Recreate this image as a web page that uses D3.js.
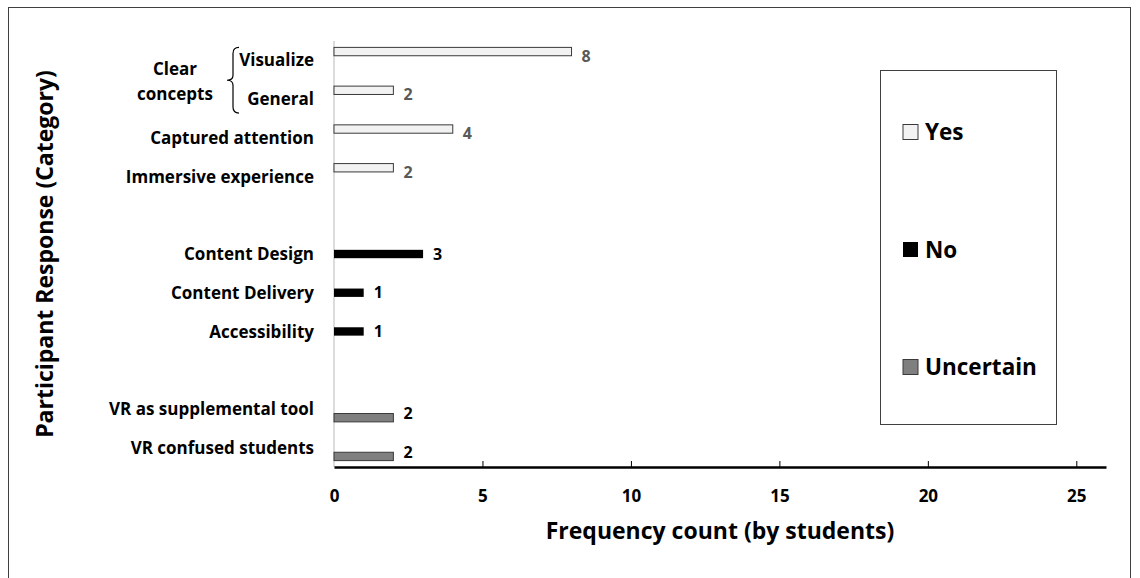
<!DOCTYPE html>
<html>
<head>
<meta charset="utf-8">
<script src="https://cdn.jsdelivr.net/npm/d3@7"></script>
<style>
  body { margin: 0; background: #fff; }
  svg { display: block; font-family: "Open Sans", Lato, sans-serif; font-weight: 700; }
</style>
</head>
<body>
<svg id="chart" width="1140" height="578"></svg>
<script>
// categories top to bottom, "gap" rows are the empty rows between groups
const categories = ["Visualize", "General", "Captured attention", "Immersive experience", "gap1",
  "Content Design", "Content Delivery", "Accessibility", "gap2",
  "VR as supplemental tool", "VR confused students"]
const seriesNames = ["Yes", "No", "Uncertain"]
const yesValues = [8, 2, 4, 2, null, null, null, null, null, null, null]
const noValues = [null, null, null, null, null, 3, 1, 1, null, null, null]
const uncertainValues = [null, null, null, null, null, null, null, null, null, 2, 2]
const xTicks = [0, 5, 10, 15, 20, 25]

const colors = { Yes: "#f2f2f2", No: "#000000", Uncertain: "#7f7f7f" }
const labelColors = { Yes: "#595959", No: "#000000", Uncertain: "#000000" }

const data = []
const seriesValues = { Yes: yesValues, No: noValues, Uncertain: uncertainValues }
seriesNames.forEach(s => {
  seriesValues[s].forEach((v, i) => {
    if (v != null) data.push({ cat: categories[i], series: s, value: v })
  })
})

const svg = d3.select("#chart")
const margin = { top: 41, right: 34, bottom: 111, left: 334 }
const width = 1140, height = 578

// outer frame
svg.append("rect")
  .attr("x", 8.5).attr("y", 7.5)
  .attr("width", 1122).attr("height", 600)
  .attr("fill", "none").attr("stroke", "#404040").attr("stroke-width", 1)

const x = d3.scaleLinear()
  .domain([0, 26])
  .range([margin.left, width - margin.right])

const y = d3.scaleBand()
  .domain(categories)
  .range([margin.top, height - margin.bottom])
  .paddingInner(0.33)
  .paddingOuter(0.165)

const ySub = d3.scaleBand()
  .domain(seriesNames)
  .range([0, y.bandwidth()])
  .paddingInner(0.05)

const barMid = d => y(d.cat) + ySub(d.series) + ySub.bandwidth() / 2
const catMid = c => y(c) + y.bandwidth() / 2

// y axis line (gray)
svg.append("line")
  .attr("x1", x(0)).attr("x2", x(0))
  .attr("y1", margin.top).attr("y2", height - margin.bottom)
  .attr("stroke", "#d0d0d0").attr("stroke-width", 1.5)

// bars
svg.append("g")
  .selectAll("rect")
  .data(data)
  .join("rect")
  .attr("x", x(0))
  .attr("y", d => y(d.cat) + ySub(d.series))
  .attr("width", d => x(d.value) - x(0))
  .attr("height", ySub.bandwidth())
  .attr("fill", d => colors[d.series])
  .attr("stroke", d => d.series === "No" ? "none" : "#3a3a3a")
  .attr("stroke-width", 1)

// value labels
svg.append("g")
  .selectAll("text")
  .data(data)
  .join("text")
  .attr("x", d => x(d.value) + 10)
  .attr("y", d => (barMid(d) + catMid(d.cat)) / 2)
  .attr("dy", "0.36em")
  .attr("font-size", 16)
  .attr("fill", d => labelColors[d.series])
  .text(d => d.value)

// category labels
svg.append("g")
  .selectAll("text")
  .data(categories.filter(c => !c.startsWith("gap")))
  .join("text")
  .attr("x", 314)
  .attr("y", d => catMid(d))
  .attr("dy", "0.36em")
  .attr("text-anchor", "end")
  .attr("font-size", 17)
  .attr("fill", "#000")
  .text(d => d)

// "Clear concepts" group label with brace
const bTop = y("Visualize")
const bBot = y("General") + y.bandwidth() + 1
const bx = 233, bMid = (bTop + bBot) / 2
svg.append("path")
  .attr("d", `M${bx + 6},${bTop} Q${bx},${bTop} ${bx},${bTop + 6} L${bx},${bMid - 5} Q${bx},${bMid} ${bx - 6},${bMid}
    Q${bx},${bMid} ${bx},${bMid + 5} L${bx},${bBot - 6} Q${bx},${bBot} ${bx + 6},${bBot}`)
  .attr("fill", "none").attr("stroke", "#000").attr("stroke-width", 1.2)
svg.append("text")
  .attr("x", 175).attr("y", bMid - 5)
  .attr("text-anchor", "middle").attr("font-size", 17)
  .text("Clear")
svg.append("text")
  .attr("x", 175).attr("y", bMid + 20)
  .attr("text-anchor", "middle").attr("font-size", 17)
  .text("concepts")

// x axis
const xAxis = svg.append("g")
  .attr("transform", `translate(0,${height - margin.bottom})`)
  .call(d3.axisBottom(x).tickValues(xTicks).tickSize(0).tickPadding(23).tickFormat(d3.format("d")))
xAxis.select(".domain").attr("stroke", "#000").attr("stroke-width", 2.5)
xAxis.selectAll(".tick text")
  .attr("font-size", 17).attr("font-family", "'Open Sans', sans-serif").attr("font-weight", 700).attr("fill", "#000")
// ticks pointing up
xAxis.selectAll(".tick").filter(d => d > 0)
  .append("line").attr("y1", 0).attr("y2", -6).attr("stroke", "#000").attr("stroke-width", 1)

// axis titles
svg.append("text")
  .attr("x", (x(0) + x(26)) / 2).attr("y", 539)
  .attr("text-anchor", "middle").attr("font-size", 23)
  .text("Frequency count (by students)")

svg.append("text")
  .attr("transform", `translate(53,${254}) rotate(-90)`)
  .attr("text-anchor", "middle").attr("font-size", 23)
  .text("Participant Response (Category)")

// legend
const legend = svg.append("g")
legend.append("rect")
  .attr("x", 880.5).attr("y", 70.5).attr("width", 176).attr("height", 354)
  .attr("fill", "#fff").attr("stroke", "#404040").attr("stroke-width", 1)
const legY = d3.scalePoint().domain(seriesNames).range([132, 367])
const item = legend.selectAll("g.item")
  .data(seriesNames)
  .join("g").attr("class", "item")
  .attr("transform", d => `translate(903,${legY(d)})`)
item.append("rect")
  .attr("x", 0).attr("y", -7.5).attr("width", 15).attr("height", 15)
  .attr("fill", d => colors[d])
  .attr("stroke", d => d === "No" ? "none" : "#3a3a3a")
item.append("text")
  .attr("x", 22).attr("dy", "0.36em")
  .attr("font-size", 22.5)
  .text(d => d)
</script>
</body>
</html>
